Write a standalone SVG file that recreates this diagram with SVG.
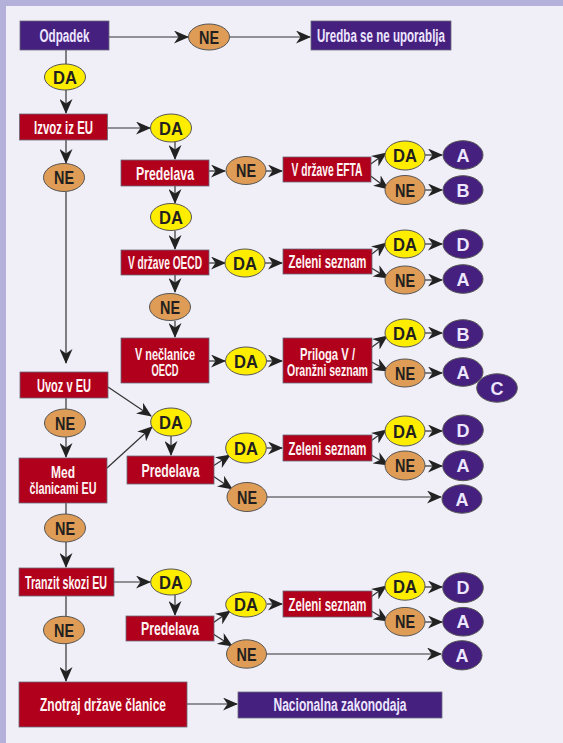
<svg xmlns="http://www.w3.org/2000/svg" width="563" height="743" viewBox="0 0 563 743">
<style>
.bg{fill:#f0eff8}
.pu{fill:#46207f;stroke:#6a6a7a;stroke-width:0.8}
.rd{fill:#b1001b;stroke:#6a6a7a;stroke-width:0.8}
.ye{fill:#ffed00;stroke:#555;stroke-width:1}
.or{fill:#df9c56;stroke:#555;stroke-width:1}
.ep{fill:#46207f;stroke:#555;stroke-width:1}
.bt{font-family:"Liberation Sans Narrow","Liberation Sans",Arial,sans-serif;font-weight:bold;font-size:17.5px;text-anchor:middle}
.b2{font-size:16.5px}
.wt{fill:#fff4f4}
.lt{fill:#ece6ff}
.et{font-family:"Liberation Sans Narrow","Liberation Sans",Arial,sans-serif;font-weight:bold;font-size:19px;text-anchor:middle;fill:#231f20}
.lt2{font-family:"Liberation Sans",Arial,sans-serif;font-weight:bold;font-size:18px;text-anchor:middle;fill:#ece6ff}
.cn line{stroke:#333;stroke-width:1.2;fill:none}
.ar{marker-end:url(#ah)}
</style>
<defs>
<marker id="ah" markerUnits="userSpaceOnUse" markerWidth="15" markerHeight="13" viewBox="0 0 15 13" refX="14" refY="6.5" orient="auto">
<path d="M0,0 L15,6.5 L0,13 L4.5,6.5 z" fill="#222"/>
</marker>
</defs>
<rect x="0" y="0" width="563" height="743" fill="#b3b1d9"/>
<rect class="bg" x="6" y="6" width="557" height="737"/>

<g class="cn">
<line class="ar" x1="109" y1="37" x2="188" y2="37"/>
<line class="ar" x1="230" y1="37" x2="310" y2="37"/>
<line x1="66" y1="50" x2="66" y2="64"/>
<line class="ar" x1="66" y1="90" x2="66" y2="113"/>
<line class="ar" x1="108" y1="128" x2="150" y2="128"/>
<line class="ar" x1="66" y1="140" x2="66" y2="163"/>
<line class="ar" x1="66" y1="192" x2="66" y2="363"/>
<line class="ar" x1="175" y1="142" x2="175" y2="159"/>
<line class="ar" x1="209" y1="171" x2="225" y2="171"/>
<line class="ar" x1="266" y1="171" x2="282" y2="171"/>
<line class="ar" x1="368" y1="166" x2="386" y2="153"/>
<line class="ar" x1="368" y1="174" x2="388" y2="189"/>
<line class="ar" x1="425" y1="155" x2="442" y2="155"/>
<line class="ar" x1="425" y1="190" x2="442" y2="190"/>
<line class="ar" x1="175" y1="186" x2="175" y2="203"/>
<line class="ar" x1="175" y1="231" x2="175" y2="249"/>
<line class="ar" x1="209" y1="263" x2="225" y2="263"/>
<line class="ar" x1="265" y1="263" x2="282" y2="263"/>
<line class="ar" x1="368" y1="257" x2="386" y2="243"/>
<line class="ar" x1="368" y1="266" x2="388" y2="278"/>
<line class="ar" x1="425" y1="244" x2="442" y2="244"/>
<line class="ar" x1="425" y1="280" x2="442" y2="280"/>
<line class="ar" x1="175" y1="275" x2="175" y2="292"/>
<line class="ar" x1="175" y1="321" x2="175" y2="337"/>
<line class="ar" x1="209" y1="361" x2="225" y2="361"/>
<line class="ar" x1="267" y1="361" x2="282" y2="361"/>
<line class="ar" x1="368" y1="350" x2="387" y2="336"/>
<line class="ar" x1="368" y1="360" x2="388" y2="371"/>
<line class="ar" x1="425" y1="333" x2="442" y2="333"/>
<line class="ar" x1="425" y1="373" x2="442" y2="373"/>
<line x1="66" y1="398" x2="66" y2="409"/>
<line class="ar" x1="66" y1="437" x2="66" y2="457"/>
<line class="ar" x1="108" y1="387" x2="151" y2="416"/>
<line class="ar" x1="107" y1="468" x2="152" y2="427"/>
<line class="ar" x1="171" y1="436" x2="171" y2="455"/>
<line class="ar" x1="210" y1="468" x2="230" y2="455"/>
<line class="ar" x1="210" y1="474" x2="232" y2="489"/>
<line class="ar" x1="267" y1="448" x2="282" y2="448"/>
<line class="ar" x1="368" y1="443" x2="386" y2="430"/>
<line class="ar" x1="368" y1="453" x2="388" y2="465"/>
<line class="ar" x1="425" y1="431" x2="442" y2="431"/>
<line class="ar" x1="425" y1="466" x2="442" y2="466"/>
<line class="ar" x1="267" y1="497" x2="441" y2="497"/>
<line x1="66" y1="503" x2="66" y2="514"/>
<line class="ar" x1="66" y1="542" x2="66" y2="567"/>
<line class="ar" x1="114" y1="582" x2="150" y2="582"/>
<line class="ar" x1="175" y1="595" x2="175" y2="615"/>
<line class="ar" x1="210" y1="625" x2="230" y2="611"/>
<line class="ar" x1="210" y1="632" x2="232" y2="646"/>
<line class="ar" x1="267" y1="604" x2="282" y2="604"/>
<line class="ar" x1="368" y1="599" x2="386" y2="586"/>
<line class="ar" x1="368" y1="609" x2="388" y2="621"/>
<line class="ar" x1="425" y1="587" x2="442" y2="587"/>
<line class="ar" x1="425" y1="622" x2="442" y2="622"/>
<line class="ar" x1="267" y1="654" x2="441" y2="654"/>
<line x1="66" y1="596" x2="66" y2="616"/>
<line class="ar" x1="66" y1="644" x2="66" y2="681"/>
<line class="ar" x1="187" y1="704" x2="237" y2="704"/>
</g>

<g id="odpadek"><rect class="pu" x="20" y="21" width="89" height="29"/><text class="bt lt" x="64.5" y="42" textLength="50" lengthAdjust="spacingAndGlyphs">Odpadek</text></g>
<g id="uredba"><rect class="pu" x="311" y="21" width="140" height="29"/><text class="bt lt" x="381" y="42" textLength="128" lengthAdjust="spacingAndGlyphs">Uredba se ne uporablja</text></g>
<g id="izvoz"><rect class="rd" x="19.5" y="114" width="88" height="26"/><text class="bt wt" x="63.5" y="133.5" textLength="59" lengthAdjust="spacingAndGlyphs">Izvoz iz EU</text></g>
<g id="predelava1"><rect class="rd" x="121" y="160" width="88" height="26"/><text class="bt wt" x="165" y="179.5" textLength="58" lengthAdjust="spacingAndGlyphs">Predelava</text></g>
<g id="efta"><rect class="rd" x="283" y="157" width="88" height="25"/><text class="bt wt" x="327" y="176" textLength="71" lengthAdjust="spacingAndGlyphs">V države EFTA</text></g>
<g id="oecd"><rect class="rd" x="121" y="250" width="88" height="25"/><text class="bt wt" x="165" y="269" textLength="74" lengthAdjust="spacingAndGlyphs">V države OECD</text></g>
<g id="zeleni1"><rect class="rd" x="283" y="249" width="89" height="25"/><text class="bt wt" x="327.5" y="268" textLength="78" lengthAdjust="spacingAndGlyphs">Zeleni seznam</text></g>
<g id="neclanice"><rect class="rd" x="121" y="338" width="88" height="45"/><text class="bt b2 wt" x="165" y="360" textLength="60" lengthAdjust="spacingAndGlyphs">V nečlanice</text><text class="bt b2 wt" x="165" y="375.5" textLength="27" lengthAdjust="spacingAndGlyphs">OECD</text></g>
<g id="priloga"><rect class="rd" x="283" y="338" width="89" height="45"/><text class="bt b2 wt" x="327.5" y="360" textLength="55" lengthAdjust="spacingAndGlyphs">Priloga V /</text><text class="bt b2 wt" x="327.5" y="375.5" textLength="81" lengthAdjust="spacingAndGlyphs">Oranžni seznam</text></g>
<g id="uvoz"><rect class="rd" x="20" y="372" width="88" height="26"/><text class="bt wt" x="64" y="391.5" textLength="54" lengthAdjust="spacingAndGlyphs">Uvoz v EU</text></g>
<g id="med"><rect class="rd" x="19" y="458" width="88" height="45"/><text class="bt b2 wt" x="63" y="478.3" textLength="24" lengthAdjust="spacingAndGlyphs">Med</text><text class="bt b2 wt" x="63" y="493.5" textLength="67" lengthAdjust="spacingAndGlyphs">članicami EU</text></g>
<g id="predelava2"><rect class="rd" x="127" y="456" width="87" height="28"/><text class="bt wt" x="170.5" y="476.5" textLength="58" lengthAdjust="spacingAndGlyphs">Predelava</text></g>
<g id="zeleni2"><rect class="rd" x="283" y="435" width="89" height="26"/><text class="bt wt" x="327.5" y="454.5" textLength="78" lengthAdjust="spacingAndGlyphs">Zeleni seznam</text></g>
<g id="tranzit"><rect class="rd" x="19" y="568" width="95" height="28"/><text class="bt wt" x="66" y="588.5" textLength="82" lengthAdjust="spacingAndGlyphs">Tranzit skozi EU</text></g>
<g id="predelava3"><rect class="rd" x="126" y="616" width="88" height="25"/><text class="bt wt" x="170" y="635" textLength="58" lengthAdjust="spacingAndGlyphs">Predelava</text></g>
<g id="zeleni3"><rect class="rd" x="283" y="591" width="89" height="26"/><text class="bt wt" x="327.5" y="610.5" textLength="78" lengthAdjust="spacingAndGlyphs">Zeleni seznam</text></g>
<g id="znotraj"><rect class="rd" x="19" y="682" width="168" height="45"/><text class="bt wt" x="103" y="711" textLength="126" lengthAdjust="spacingAndGlyphs">Znotraj države članice</text></g>
<g id="nacionalna"><rect class="pu" x="238" y="692" width="204" height="26"/><text class="bt lt" x="340" y="711" textLength="133" lengthAdjust="spacingAndGlyphs">Nacionalna zakonodaja</text></g>

<g id="ne0"><ellipse class="or" cx="209" cy="37" rx="20.5" ry="13"/><text class="et" x="209" y="43.5" textLength="20" lengthAdjust="spacingAndGlyphs">NE</text></g>
<g id="da0"><ellipse class="ye" cx="65" cy="77" rx="20.5" ry="13"/><text class="et" x="65" y="83.5" textLength="24" lengthAdjust="spacingAndGlyphs">DA</text></g>
<g id="da1"><ellipse class="ye" cx="171" cy="128" rx="20.5" ry="14"/><text class="et" x="171" y="134.5" textLength="24" lengthAdjust="spacingAndGlyphs">DA</text></g>
<g id="ne1"><ellipse class="or" cx="64" cy="177.5" rx="20.5" ry="14"/><text class="et" x="64" y="184" textLength="20" lengthAdjust="spacingAndGlyphs">NE</text></g>
<g id="ne2"><ellipse class="or" cx="246" cy="170.5" rx="20" ry="14"/><text class="et" x="246" y="177" textLength="20" lengthAdjust="spacingAndGlyphs">NE</text></g>
<g id="da_efta"><ellipse class="ye" cx="405" cy="155.5" rx="20" ry="14.5"/><text class="et" x="405" y="162" textLength="24" lengthAdjust="spacingAndGlyphs">DA</text></g>
<g id="ne_efta"><ellipse class="or" cx="405" cy="190" rx="20" ry="14.5"/><text class="et" x="405" y="196.5" textLength="20" lengthAdjust="spacingAndGlyphs">NE</text></g>
<g id="a1"><ellipse class="ep" cx="463" cy="155" rx="20" ry="14.3"/><text class="lt2" x="463" y="161.5">A</text></g>
<g id="b1"><ellipse class="ep" cx="463" cy="190" rx="20" ry="14.3"/><text class="lt2" x="463" y="196.5">B</text></g>
<g id="da3"><ellipse class="ye" cx="171" cy="217" rx="20.5" ry="13.5"/><text class="et" x="171" y="223.5" textLength="24" lengthAdjust="spacingAndGlyphs">DA</text></g>
<g id="da4"><ellipse class="ye" cx="245" cy="263" rx="20" ry="14"/><text class="et" x="245" y="269.5" textLength="24" lengthAdjust="spacingAndGlyphs">DA</text></g>
<g id="da_z1"><ellipse class="ye" cx="405" cy="244" rx="20" ry="14"/><text class="et" x="405" y="250.5" textLength="24" lengthAdjust="spacingAndGlyphs">DA</text></g>
<g id="ne_z1"><ellipse class="or" cx="405" cy="280" rx="20" ry="14"/><text class="et" x="405" y="286.5" textLength="20" lengthAdjust="spacingAndGlyphs">NE</text></g>
<g id="d1"><ellipse class="ep" cx="463" cy="244" rx="20" ry="14.3"/><text class="lt2" x="463" y="250.5">D</text></g>
<g id="a2"><ellipse class="ep" cx="463" cy="279" rx="20" ry="14.3"/><text class="lt2" x="463" y="285.5">A</text></g>
<g id="ne5"><ellipse class="or" cx="170" cy="307" rx="20.5" ry="13.5"/><text class="et" x="170" y="313.5" textLength="20" lengthAdjust="spacingAndGlyphs">NE</text></g>
<g id="da6"><ellipse class="ye" cx="246" cy="361" rx="20.5" ry="14"/><text class="et" x="246" y="367.5" textLength="24" lengthAdjust="spacingAndGlyphs">DA</text></g>
<g id="da_p"><ellipse class="ye" cx="405" cy="333" rx="20" ry="14"/><text class="et" x="405" y="339.5" textLength="24" lengthAdjust="spacingAndGlyphs">DA</text></g>
<g id="ne_p"><ellipse class="or" cx="405" cy="373" rx="20" ry="14"/><text class="et" x="405" y="379.5" textLength="20" lengthAdjust="spacingAndGlyphs">NE</text></g>
<g id="b2"><ellipse class="ep" cx="463" cy="334" rx="20" ry="14.3"/><text class="lt2" x="463" y="340.5">B</text></g>
<g id="a3"><ellipse class="ep" cx="463" cy="372" rx="20" ry="14.3"/><text class="lt2" x="463" y="378.5">A</text></g>
<g id="c1"><ellipse class="ep" cx="497" cy="388" rx="20.3" ry="14.2"/><text class="lt2" x="497" y="394.5">C</text></g>
<g id="ne7"><ellipse class="or" cx="65" cy="423" rx="20.5" ry="14"/><text class="et" x="65" y="429.5" textLength="20" lengthAdjust="spacingAndGlyphs">NE</text></g>
<g id="da8"><ellipse class="ye" cx="171" cy="422" rx="20.3" ry="14"/><text class="et" x="171" y="428.5" textLength="24" lengthAdjust="spacingAndGlyphs">DA</text></g>
<g id="da9"><ellipse class="ye" cx="246" cy="448" rx="20.3" ry="15"/><text class="et" x="246" y="454.5" textLength="24" lengthAdjust="spacingAndGlyphs">DA</text></g>
<g id="ne9"><ellipse class="or" cx="247" cy="497" rx="20" ry="14.5"/><text class="et" x="247" y="503.5" textLength="20" lengthAdjust="spacingAndGlyphs">NE</text></g>
<g id="da_z2"><ellipse class="ye" cx="405" cy="431" rx="20" ry="15"/><text class="et" x="405" y="437.5" textLength="24" lengthAdjust="spacingAndGlyphs">DA</text></g>
<g id="ne_z2"><ellipse class="or" cx="405" cy="465.5" rx="20" ry="14.5"/><text class="et" x="405" y="472" textLength="20" lengthAdjust="spacingAndGlyphs">NE</text></g>
<g id="d2"><ellipse class="ep" cx="463" cy="430" rx="20.3" ry="15"/><text class="lt2" x="463" y="436.5">D</text></g>
<g id="a4"><ellipse class="ep" cx="463" cy="465.7" rx="20.3" ry="15"/><text class="lt2" x="463" y="472.2">A</text></g>
<g id="a5"><ellipse class="ep" cx="462" cy="499" rx="20" ry="14.2"/><text class="lt2" x="462" y="505.5">A</text></g>
<g id="ne10"><ellipse class="or" cx="65" cy="528" rx="20.5" ry="14"/><text class="et" x="65" y="534.5" textLength="20" lengthAdjust="spacingAndGlyphs">NE</text></g>
<g id="da11"><ellipse class="ye" cx="171" cy="582" rx="20.3" ry="13"/><text class="et" x="171" y="588.5" textLength="24" lengthAdjust="spacingAndGlyphs">DA</text></g>
<g id="da12"><ellipse class="ye" cx="246" cy="604.5" rx="20.3" ry="12.5"/><text class="et" x="246" y="611" textLength="24" lengthAdjust="spacingAndGlyphs">DA</text></g>
<g id="ne12"><ellipse class="or" cx="246.5" cy="654" rx="20" ry="14.2"/><text class="et" x="246.5" y="660.5" textLength="20" lengthAdjust="spacingAndGlyphs">NE</text></g>
<g id="da_z3"><ellipse class="ye" cx="405" cy="586" rx="20" ry="14.2"/><text class="et" x="405" y="592.5" textLength="24" lengthAdjust="spacingAndGlyphs">DA</text></g>
<g id="ne_z3"><ellipse class="or" cx="405" cy="621.7" rx="20" ry="14.3"/><text class="et" x="405" y="628.2" textLength="20" lengthAdjust="spacingAndGlyphs">NE</text></g>
<g id="d3"><ellipse class="ep" cx="463" cy="587.7" rx="20.3" ry="15"/><text class="lt2" x="463" y="594.2">D</text></g>
<g id="a6"><ellipse class="ep" cx="463" cy="621.7" rx="20.3" ry="14.3"/><text class="lt2" x="463" y="628.2">A</text></g>
<g id="a7"><ellipse class="ep" cx="462" cy="655.3" rx="20" ry="14.6"/><text class="lt2" x="462" y="661.8">A</text></g>
<g id="ne13"><ellipse class="or" cx="64" cy="630" rx="20.5" ry="13.7"/><text class="et" x="64" y="636.5" textLength="20" lengthAdjust="spacingAndGlyphs">NE</text></g>
</svg>
